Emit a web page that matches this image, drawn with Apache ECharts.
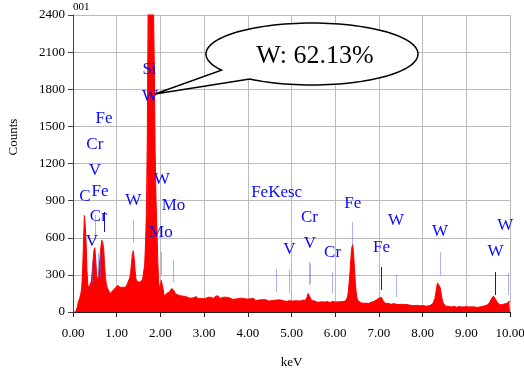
<!DOCTYPE html>
<html>
<head>
<meta charset="utf-8">
<script src="https://cdn.jsdelivr.net/npm/echarts@6/dist/echarts.min.js"></script>
<style>
html, body { margin: 0; padding: 0; background: #fff; }
#main { width: 524px; height: 370px; }
</style>
</head>
<body>
<div id="main"></div>
<script>
var chartDom = document.getElementById('main');
var myChart = echarts.init(chartDom);
var option;

// spectrum: one channel every 0.02 keV, 0.00 .. 10.00
var keVStart = 0;
var keVStep = 0.02;
var counts = [
  0, 0, 0, 0, 0,            // 0.0
  40, 80, 100, 120, 150,    // 0.1
  200, 330, 560, 780, 700,
  560, 330, 220, 190, 205,
  230, 250, 330, 420, 500,
  520, 420, 300, 260, 280,  // 0.5
  360, 450, 530, 580, 560,
  520, 400, 290, 230, 200,
  190, 170, 160, 150, 160,
  170, 180, 175, 190, 200,
  205, 215, 220, 210, 200,  // 1.0
  195, 190, 200, 205, 195,
  200, 210, 225, 240, 260,
  280, 320, 400, 470, 495,
  430, 340, 270, 250, 240,
  235, 240, 230, 245, 255,  // 1.5
  280, 290, 380, 560, 800,
  1400, 2500, 3100, 3500, 3600,
  3400, 3000, 2500, 2000, 1300,
  900, 680, 420, 240, 190,
  220, 255, 250, 190, 145,  // 2.0
  125, 135, 150, 145, 155,
  160, 165, 175, 190, 195,
  190, 170, 150, 140, 135,
  138, 130, 128, 132, 125,
  122, 128, 120, 118, 125,  // 2.5
  130, 120, 115, 125, 118,
  112, 120, 128, 115, 110,
  118, 125, 112, 108, 120,
  115, 110, 122, 118, 108,
  112, 118, 110, 105, 115,  // 3.0
  120, 112, 108, 118, 125,
  115, 110, 120, 128, 112,
  118, 130, 122, 110, 115,
  125, 118, 108, 112, 120,
  115, 108, 118, 110, 105,  // 3.5
  112, 120, 108, 102, 115,
  110, 105, 112, 118, 108,
  100, 108, 112, 105, 98,
  110, 102, 95, 105, 112,
  98, 105, 100, 92, 108,    // 4.0
  102, 95, 110, 98, 92,
  100, 106, 96, 90, 102,
  98, 92, 105, 100, 94,
  90, 98, 102, 95, 88,
  96, 100, 92, 88, 98,      // 4.5
  94, 90, 100, 96, 88,
  92, 98, 90, 86, 95,
  100, 92, 88, 96, 90,
  86, 95, 100, 92, 104,
  96, 88, 92, 98, 90,       // 5.0
  86, 94, 90, 85, 92,
  88, 84, 92, 96, 86,
  90, 95, 105, 125, 150,
  165, 140, 110, 92, 86,
  84, 90, 82, 86, 80,       // 5.5
  85, 88, 80, 78, 86,
  82, 78, 84, 80, 76,
  80, 84, 78, 82, 76,
  78, 82, 86, 80, 75,
  80, 78, 84, 82, 80,       // 6.0
  76, 82, 80, 78, 84,
  80, 86, 90, 100, 120,
  160, 240, 330, 440, 520,
  545, 470, 360, 240, 160,
  110, 92, 84, 80, 76,      // 6.5
  72, 76, 70, 74, 68,
  72, 70, 75, 68, 72,
  74, 78, 80, 82, 86,
  88, 92, 96, 100, 108,
  112, 116, 120, 118, 105,  // 7.0
  88, 78, 72, 68, 70,
  66, 70, 64, 68, 62,
  66, 62, 68, 60, 64,
  62, 58, 64, 60, 56,
  60, 62, 58, 55, 60,       // 7.5
  58, 54, 60, 56, 52,
  56, 60, 54, 52, 58,
  55, 52, 56, 50, 54,
  52, 56, 50, 54, 48,
  52, 50, 54, 48, 52,       // 8.0
  50, 48, 52, 50, 55,
  58, 62, 70, 85, 110,
  150, 195, 235, 245, 230,
  200, 160, 115, 85, 65,
  55, 50, 46, 48, 44,       // 8.5
  46, 42, 45, 40, 44,
  42, 46, 40, 43, 38,
  42, 40, 44, 38, 42,
  40, 44, 38, 42, 40,
  38, 42, 40, 37, 41,       // 9.0
  40, 38, 42, 39, 36,
  40, 38, 41, 37, 40,
  38, 42, 40, 44, 46,
  44, 48, 52, 50, 56,
  60, 70, 82, 95, 110,      // 9.5
  120, 128, 122, 110, 95,
  82, 72, 65, 60, 62,
  58, 62, 66, 64, 70,
  72, 68, 76, 80, 86,
  84                        // 10.0
];

// peak marker lines: [keV, from count, to count]
var lightMarks = [
  [0.44, 234, 404], [0.52, 582, 784], [0.57, 283, 477], [0.62, 283, 477],
  [1.38, 558, 743], [1.69, 768, 1107], [1.75, 2198, 2319], [2.01, 300, 485],
  [2.30, 242, 420], [4.66, 162, 347], [4.95, 154, 340], [5.41, 218, 404],
  [5.43, 230, 390], [5.94, 154, 323], [6.39, 541, 727], [7.39, 121, 299],
  [8.41, 299, 485], [9.96, 137, 315]
];
var darkMarks = [[0.72, 646, 808], [7.06, 178, 364], [9.66, 137, 323]];

// element labels: [text, keV, count]
var peakLabels = [
  ['Si', 1.75, 1956], ['W', 1.76, 1740], ['Fe', 0.71, 1565],
  ['Cr', 0.50, 1350], ['V', 0.50, 1147], ['C', 0.27, 932],
  ['Fe', 0.62, 972], ['Cr', 0.58, 770], ['V', 0.43, 568],
  ['W', 1.38, 900], ['W', 2.03, 1072], ['Mo', 2.30, 857],
  ['Mo', 2.01, 641], ['FeKesc', 4.66, 967], ['Cr', 5.41, 766],
  ['V', 4.95, 501], ['V', 5.42, 555], ['Cr', 5.94, 479],
  ['Fe', 6.40, 878], ['W', 7.39, 738], ['Fe', 7.06, 520],
  ['W', 8.40, 654], ['W', 9.67, 487], ['W', 9.89, 695]
];

var xTicks = { min: 0, max: 10, interval: 1 };
var yTicks = { min: 0, max: 2400, interval: 300 };
var resultText = 'W: 62.13%';

var serif = 'Liberation Serif';

var spectrum = counts.map(function (c, i) {
  return [+(keVStart + i * keVStep).toFixed(2), c];
});

function toMarkLines(list, color) {
  return list.map(function (m) {
    return [
      { coord: [m[0], m[1]], lineStyle: { color: color } },
      { coord: [m[0], m[2]] }
    ];
  });
}

// speech bubble outline: ellipse arc plus a pointed tail
function bubblePoints(cx, cy, rx, ry, tip, fromDeg, toDeg) {
  var pts = [tip];
  for (var a = fromDeg; a >= toDeg; a -= 3) {
    var t = a * Math.PI / 180;
    pts.push([cx + rx * Math.cos(t), cy + ry * Math.sin(t)]);
  }
  var te = toDeg * Math.PI / 180;
  pts.push([cx + rx * Math.cos(te), cy + ry * Math.sin(te)]);
  return pts;
}

option = {
  animation: false,
  grid: { left: 73, right: 14, top: 15, bottom: 58, containLabel: false, outerBoundsMode: 'none' },
  xAxis: {
    type: 'value',
    min: xTicks.min,
    max: xTicks.max,
    interval: xTicks.interval,
    name: 'keV',
    nameLocation: 'middle',
    nameGap: 44,
    nameTextStyle: { color: '#000', fontFamily: serif, fontSize: 13 },
    axisLine: { lineStyle: { color: '#222' } },
    axisTick: { show: true, length: 5, lineStyle: { color: '#222' } },
    axisLabel: {
      color: '#000', fontFamily: serif, fontSize: 13, margin: 15,
      formatter: function (v) { return v.toFixed(2); }
    },
    splitLine: { show: true, lineStyle: { color: '#bbbbbb' } }
  },
  yAxis: {
    type: 'value',
    min: yTicks.min,
    max: yTicks.max,
    interval: yTicks.interval,
    axisLine: { show: true, lineStyle: { color: '#444' } },
    axisTick: { show: true, length: 5, lineStyle: { color: '#444' } },
    axisLabel: {
      color: '#000', fontFamily: serif, fontSize: 13, margin: 8,
      formatter: function (v) { return String(v); }
    },
    splitLine: { show: true, lineStyle: { color: '#bbbbbb' } }
  },
  series: [
    {
      type: 'line',
      data: spectrum,
      showSymbol: false,
      sampling: 'none',
      lineStyle: { color: '#ff0000', width: 1 },
      areaStyle: { color: '#ff0000', opacity: 1 },
      markLine: {
        silent: true,
        symbol: 'none',
        label: { show: false },
        lineStyle: { type: 'solid', width: 1 },
        data: toMarkLines(lightMarks, 'rgba(90,100,240,0.5)')
          .concat(toMarkLines(darkMarks, '#1010d0'))
      }
    },
    {
      type: 'scatter',
      silent: true,
      symbolSize: 0,
      itemStyle: { color: '#0000ff' },
      data: peakLabels.map(function (p) {
        return { name: p[0], value: [p[1], p[2]] };
      }),
      label: {
        show: true,
        position: 'inside',
        formatter: function (p) { return p.name; },
        color: '#0a0aff',
        opacity: 1,
        fontFamily: serif,
        fontSize: 17
      },
      z: 5
    }
  ],
  graphic: [
    {
      type: 'text', x: 73, y: 2,
      style: { text: '001', font: '11px "Liberation Serif"', fill: '#000' }
    },
    {
      type: 'text', x: 14, y: 137, rotation: Math.PI / 2,
      style: {
        text: 'Counts', font: '13px "Liberation Serif"', fill: '#000',
        textAlign: 'center', textVerticalAlign: 'middle'
      }
    },
    {
      type: 'polygon',
      z: 10,
      shape: { points: bubblePoints(312, 54, 106, 31, [155, 94], 126, -211.3) },
      style: { fill: '#fff', stroke: '#000', lineWidth: 1.5 }
    },
    {
      type: 'text', x: 315, y: 56, z: 11,
      style: {
        text: resultText, font: '26px "Liberation Serif"', fill: '#000',
        textAlign: 'center', textVerticalAlign: 'middle'
      }
    }
  ]
};

option && myChart.setOption(option);
</script>
</body>
</html>
